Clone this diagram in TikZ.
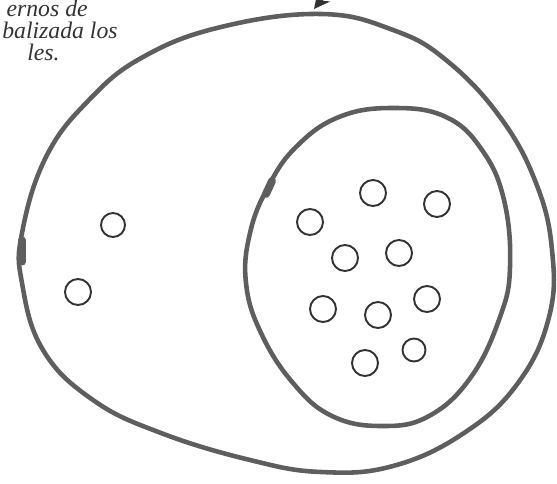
\documentclass[tikz,border=0pt]{standalone}
\usepackage{fontspec}
\setmainfont{Liberation Serif}
\usetikzlibrary{arrows.meta}
\definecolor{inkgray}{HTML}{5E5E5E}
\definecolor{inkdark}{HTML}{333333}
\tikzset{
  membrane/.style={draw=inkgray, line width=2.6pt, line join=round},
  cell/.style={circle, draw=inkdark, line width=1.1pt, minimum size=0.52cm, inner sep=0pt},
  caption/.style={anchor=base east, inner sep=0pt, font=\fontsize{13.5}{13.5}\selectfont\itshape, text=inkdark}
}

\begin{document}
\begin{tikzpicture}[x=0.02cm, y=-0.02cm]
    \useasboundingbox (0,0) rectangle (557,483);

    % Text cut off at the left edge
    \node[caption] (line1) at (88,17) {ernos de};
    \node[caption] (line2) at (118,39) {balizada los};
    \node[caption] (line3) at (60,61) {les.};

    % Arrow tip cut off at the top
    \coordinate (arrowtail) at (345,-30);
    \coordinate (arrowhead) at (314,9);
    \draw[draw=inkdark, line width=2pt, -{Stealth[length=9pt, width=9pt]}] (arrowtail) -- (arrowhead);

    % Outer shape
    \draw[membrane] plot[smooth cycle, tension=0.7] coordinates {
        (321,14) (393,30) (446,60) (500,117) (536,183) (552,250) (549,317)
        (518,383) (464,433) (393,466) (321,472) (250,460) (161,433) (93,400)
        (43,350) (22,283) (22,233) (46,157) (89,100) (143,57) (221,27)};
    \draw[draw=inkgray, line width=4pt, line cap=round] (22,240) -- (22,262);

    % Inner shape
    \draw[membrane] plot[smooth cycle, tension=0.7] coordinates {
        (393,108) (446,117) (482,150) (504,200) (510,267) (500,317) (471,377)
        (429,416) (382,426) (332,416) (293,383) (261,333) (246,283) (250,233)
        (268,187) (296,147) (339,117)};
    \draw[draw=inkgray, line width=4.5pt, line cap=round] (266,194) -- (272,181);

    % Small circles outside the inner shape
    \node[cell, minimum size=0.48cm] (out1) at (113,225) {};
    \node[cell] (out2) at (78,292) {};

    % Small circles inside the inner shape
    \node[cell] (in1) at (373,193) {};
    \node[cell] (in2) at (437,204) {};
    \node[cell] (in3) at (310,222) {};
    \node[cell] (in4) at (345,258) {};
    \node[cell] (in5) at (399,253) {};
    \node[cell] (in6) at (323,309) {};
    \node[cell] (in7) at (378,315) {};
    \node[cell] (in8) at (427,299) {};
    \node[cell] (in9) at (365,363) {};
    \node[cell, minimum size=0.46cm] (in10) at (414,350) {};
\end{tikzpicture}
\end{document}
